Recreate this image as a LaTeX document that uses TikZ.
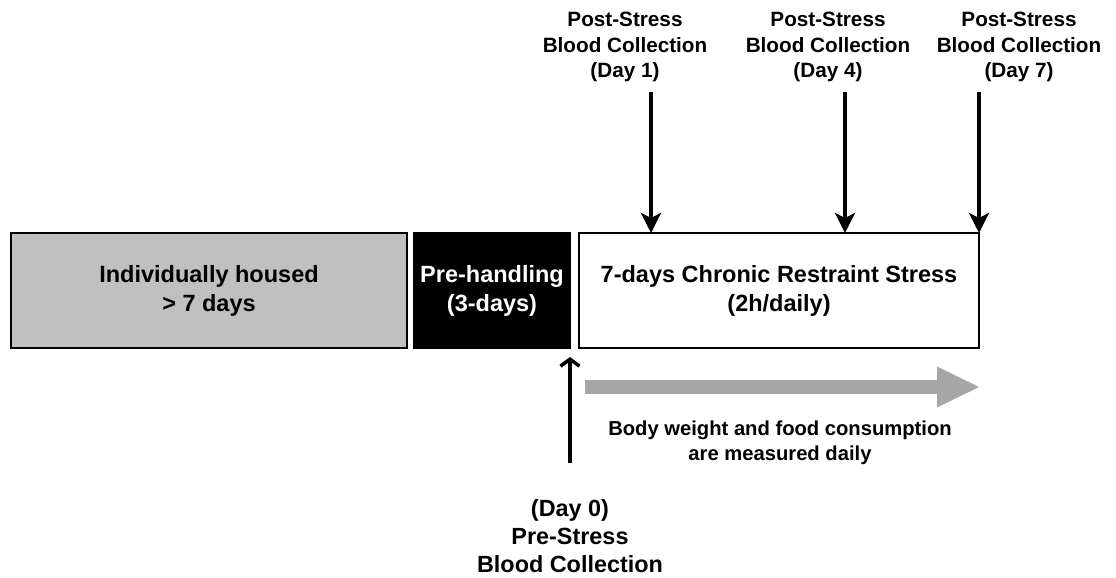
\documentclass[tikz,border=0pt]{standalone}
\usepackage{fontspec}
\setmainfont{Liberation Sans}
\usetikzlibrary{positioning,arrows.meta}
\definecolor{housedgray}{HTML}{C0C0C0}
\definecolor{arrowgray}{HTML}{A6A6A6}
\newcommand{\boxfont}{\fontsize{23.5}{29}\selectfont\bfseries}
\newcommand{\labfont}{\fontsize{20.7}{25.5}\selectfont\bfseries}
\newcommand{\notefont}{\fontsize{20.2}{24.5}\selectfont\bfseries}
\tikzstyle{block} = [draw, line width=2pt, rectangle, minimum height=115pt, inner sep=0pt, outer sep=0pt, align=center, font=\boxfont]
\tikzstyle{tag} = [align=center, inner sep=0pt, font=\labfont]
\tikzset{sample/.style={line width=4.5pt, -{Stealth[length=20pt,width=20pt,inset=5pt]}},
         baseline/.style={line width=3.5pt, -{Straight Barb[length=7pt,width=19pt,line width=3.5pt]}},
         daily/.style={arrowgray, line width=14pt, -{Triangle[length=42pt,width=41pt,line width=0pt]}}}

\begin{document}
\begin{tikzpicture}[x=1pt, y=-1pt]
        \useasboundingbox (0,0) rectangle (1116,578);
        \node [block, fill=housedgray, minimum width=396pt] (housed) at (209,290.5) {Individually housed\\> 7 days};
        \node [block, fill=black, text=white, minimum width=156pt, right=7pt of housed] (prehand) {Pre-handling\\(3-days)};
        \node [block, fill=white, minimum width=400pt, right=9pt of prehand] (crs) {7-days Chronic Restraint Stress\\(2h/daily)};

        \node [tag] (post1) at (625,47) {Post-Stress\\Blood Collection\\(Day 1)};
        \node [tag] (post4) at (828,47) {Post-Stress\\Blood Collection\\(Day 4)};
        \node [tag] (post7) at (1019,47) {Post-Stress\\Blood Collection\\(Day 7)};
        \node [tag, font=\notefont] (note) at (780,443) {Body weight and food consumption\\are measured daily};
        \node [tag, font=\fontsize{23.4}{28}\selectfont\bfseries] (pre0) at (570,536) {(Day 0)\\Pre-Stress\\Blood Collection};

        \coordinate (d1) at (651,92);
        \coordinate (d4) at (845,92);
        \coordinate (d7) at (979,92);
        \coordinate (b0) at (570,463);
        \coordinate (b1) at (570,357);
        \coordinate (g0) at (585,387);
        \coordinate (g1) at (979,387);

        \draw [sample] (d1) -- (d1 |- crs.north);
        \draw [sample] (d4) -- (d4 |- crs.north);
        \draw [sample] (d7) -- (d7 |- crs.north);
        \draw [baseline] (b0) -- (b1);
        \draw [daily] (g0) -- (g1);
\end{tikzpicture}
\end{document}
